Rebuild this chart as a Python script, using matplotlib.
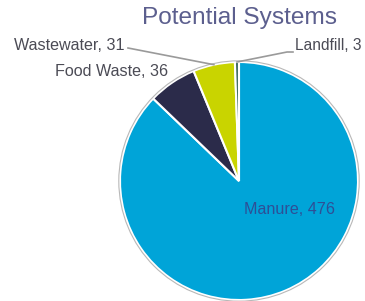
import numpy as np
import matplotlib.pyplot as plt
from matplotlib.patches import Circle

# datos del grafico
categorias = ["Manure", "Food Waste", "Wastewater", "Landfill"]
valores = [476, 36, 31, 3]
colores = ["#00a4d8", "#2b2b4a", "#c9d400", "#3f6b5c"]
titulo = "Potential Systems"

plt.rcParams['font.family'] = ['Liberation Sans', 'DejaVu Sans']

fig = plt.figure(figsize=(3.65, 3.01), dpi=100)
ax = fig.add_axes([0, 0, 1, 1])

cx, cy, r = 239, 120, 119

wedges, _ = ax.pie(valores, colors=colores, startangle=90, counterclock=False,
                   center=(cx, cy), radius=r, frame=True,
                   wedgeprops=dict(edgecolor="white", linewidth=1.5))
ax.set_xlim(0, 365)
ax.set_ylim(0, 301)
ax.set_aspect('equal')
ax.axis('off')
ax.add_patch(Circle((cx, cy), r + 1.2, fill=False, edgecolor="#b8b8b8", linewidth=0.8))

def punto(w, rr):
    ang = np.deg2rad((w.theta1 + w.theta2) / 2)
    return cx + rr * np.cos(ang), cy + rr * np.sin(ang)

gris_linea = "#9a9a9a"
color_txt = "#4b4b55"
fs = 11.6

# Wastewater
x0, y0 = punto(wedges[2], r)
ax.plot([x0, 128], [y0, 253], color=gris_linea, lw=1.2)
ax.text(125, 255, f"{categorias[2]}, {valores[2]}", ha="right", va="center",
        fontsize=fs, color=color_txt)

# Landfill
x0, y0 = punto(wedges[3], r)
ax.plot([x0, 287, 293], [y0, 249, 249], color=gris_linea, lw=1.2)
ax.text(295, 255, f"{categorias[3]}, {valores[3]}", ha="left", va="center",
        fontsize=11.2, color=color_txt)

# Food Waste
ax.text(168, 229, f"{categorias[1]}, {valores[1]}", ha="right", va="center",
        fontsize=fs, color=color_txt)

# Manure
ax.text(290, 91, f"{categorias[0]}, {valores[0]}", ha="center", va="center",
        fontsize=fs, color="#2e4f96")

fig.text(240 / 365, 1 - 18 / 301, titulo, ha="center", va="center",
         fontsize=17.6, color="#5c5f8e")

fig.savefig("out.png", dpi=100)
